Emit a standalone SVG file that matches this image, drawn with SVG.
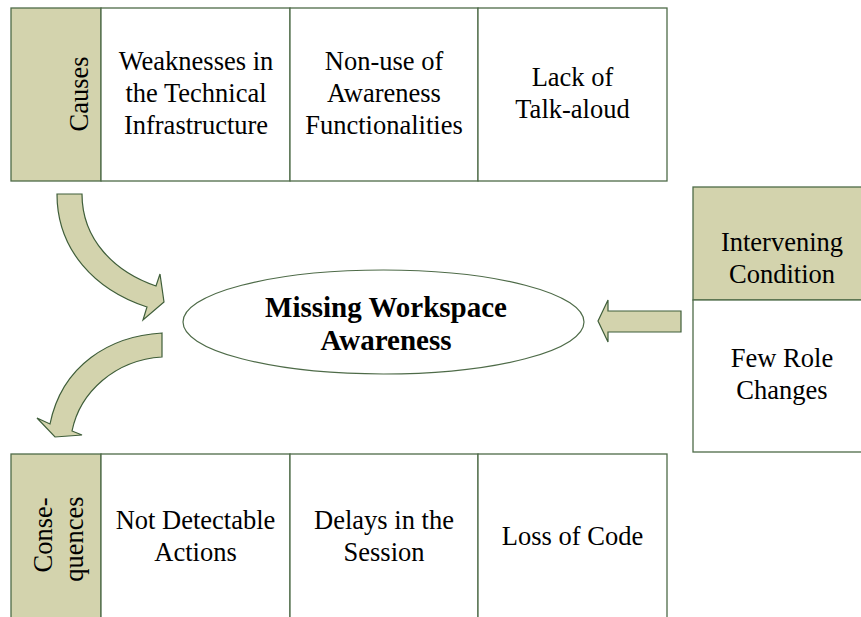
<svg xmlns="http://www.w3.org/2000/svg" width="861" height="617" viewBox="0 0 861 617">
<style>
.box{fill:#ffffff;stroke:#4e6b48;stroke-width:1.3}
.tan{fill:#d3d3ad;stroke:#4e6b48;stroke-width:1.3}
.arrow{fill:#d3d3ad;stroke:#3f5e3a;stroke-width:1.2;stroke-linejoin:miter}
text{font-size:26.5px;fill:#000;text-anchor:middle}
.b{font-weight:bold;font-size:29px}
</style>
<rect width="861" height="617" fill="#ffffff"/>
<g font-family="Liberation Serif, Tinos, DejaVu Serif, serif">
<g id="causes">
<rect class="tan" x="11" y="8" width="90" height="173"/>
<text transform="translate(88,94) rotate(-90)">Causes</text>
</g>
<g id="cause1">
<rect class="box" x="101" y="8" width="189" height="173"/>
<text x="196" y="70">Weaknesses in</text>
<text x="196" y="102">the Technical</text>
<text x="196" y="134">Infrastructure</text>
</g>
<g id="cause2">
<rect class="box" x="290" y="8" width="188" height="173"/>
<text x="384" y="70">Non-use of</text>
<text x="384" y="102">Awareness</text>
<text x="384" y="134">Functionalities</text>
</g>
<g id="cause3">
<rect class="box" x="478" y="8" width="189" height="173"/>
<text x="572.5" y="86">Lack of</text>
<text x="572.5" y="118">Talk-aloud</text>
</g>
<g id="intervening">
<rect class="tan" x="693" y="187" width="175" height="113"/>
<text x="782" y="251">Intervening</text>
<text x="782" y="283">Condition</text>
</g>
<g id="fewrole">
<rect class="box" x="693" y="300" width="175" height="152"/>
<text x="782" y="367">Few Role</text>
<text x="782" y="399">Changes</text>
</g>
<g id="center">
<ellipse cx="383.5" cy="322" rx="200.5" ry="52" fill="#ffffff" stroke="#4e6b48" stroke-width="1.2"/>
<text class="b" x="386" y="317">Missing Workspace</text>
<text class="b" x="386" y="350">Awareness</text>
</g>
<g id="consequences">
<rect class="tan" x="11" y="454" width="90" height="175"/>
<text transform="translate(52,535) rotate(-90)">Conse-</text>
<text transform="translate(83,539) rotate(-90)">quences</text>
</g>
<g id="cons1">
<rect class="box" x="101" y="454" width="189" height="175"/>
<text x="195.5" y="529">Not Detectable</text>
<text x="195.5" y="561">Actions</text>
</g>
<g id="cons2">
<rect class="box" x="290" y="454" width="188" height="175"/>
<text x="384" y="529">Delays in the</text>
<text x="384" y="561">Session</text>
</g>
<g id="cons3">
<rect class="box" x="478" y="454" width="189" height="175"/>
<text x="572.5" y="545">Loss of Code</text>
</g>
</g>
<g id="connectors">
<path class="arrow" d="M57 194 C57 250 95 290 147 307 L143 320 L164 302 L160 274 L156 286 C115 272 82 240 82 194 Z"/>
<path class="arrow" d="M162 333 C110 336 62 365 50 424 L37 418 L55 437 L82 435 L72 431 C80 392 115 360 162 357 Z"/>
<path class="arrow" d="M681 311 L608 311 L608 300 L598 321 L608 342 L608 332 L681 332 Z"/>
</g>
</svg>
